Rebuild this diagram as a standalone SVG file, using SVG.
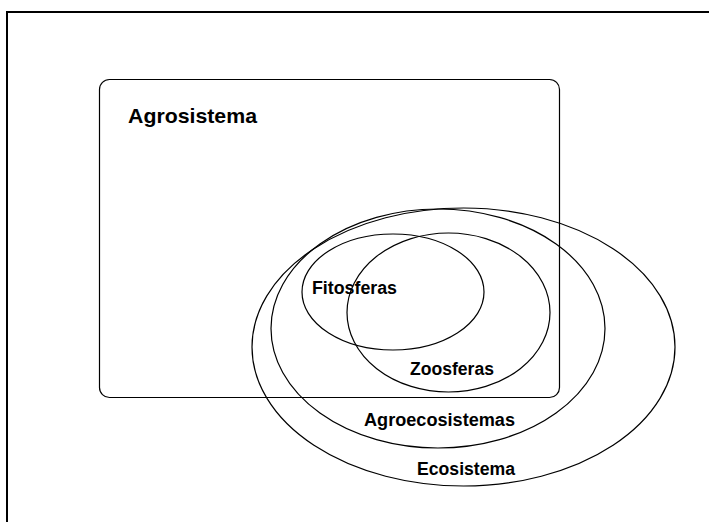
<svg xmlns="http://www.w3.org/2000/svg" width="709" height="522" viewBox="0 0 709 522">
<style>
.ln{fill:none;stroke:#000;stroke-width:1.2}
.t{font-family:"Liberation Sans",Arial,sans-serif;font-weight:bold;fill:#000}
</style>
<rect x="0" y="0" width="709" height="522" fill="#fff"/>
<g id="frame">
<path d="M7,522 V12 H709" fill="none" stroke="#000" stroke-width="2"/>
</g>
<g id="agrosistema">
<rect class="ln" x="99.5" y="79.5" width="460" height="318" rx="10"/>
<text class="t" x="128" y="123" font-size="21" textLength="129" lengthAdjust="spacingAndGlyphs">Agrosistema</text>
</g>
<g id="ecosistema">
<ellipse class="ln" cx="463.5" cy="347" rx="211.5" ry="139"/>
<text class="t" x="417" y="475" font-size="18" textLength="98" lengthAdjust="spacingAndGlyphs">Ecosistema</text>
</g>
<g id="agroecosistemas">
<ellipse class="ln" cx="438" cy="328.5" rx="167" ry="119.5"/>
<text class="t" x="364" y="426" font-size="18" textLength="151" lengthAdjust="spacingAndGlyphs">Agroecosistemas</text>
</g>
<g id="zoosferas">
<ellipse class="ln" cx="448.5" cy="312.5" rx="101.5" ry="79.5"/>
<text class="t" x="410" y="375" font-size="18" textLength="84" lengthAdjust="spacingAndGlyphs">Zoosferas</text>
</g>
<g id="fitosferas">
<ellipse class="ln" cx="393" cy="292" rx="91" ry="58"/>
<text class="t" x="312" y="294" font-size="18" textLength="85" lengthAdjust="spacingAndGlyphs">Fitosferas</text>
</g>
<g id="connectors"></g>
</svg>
